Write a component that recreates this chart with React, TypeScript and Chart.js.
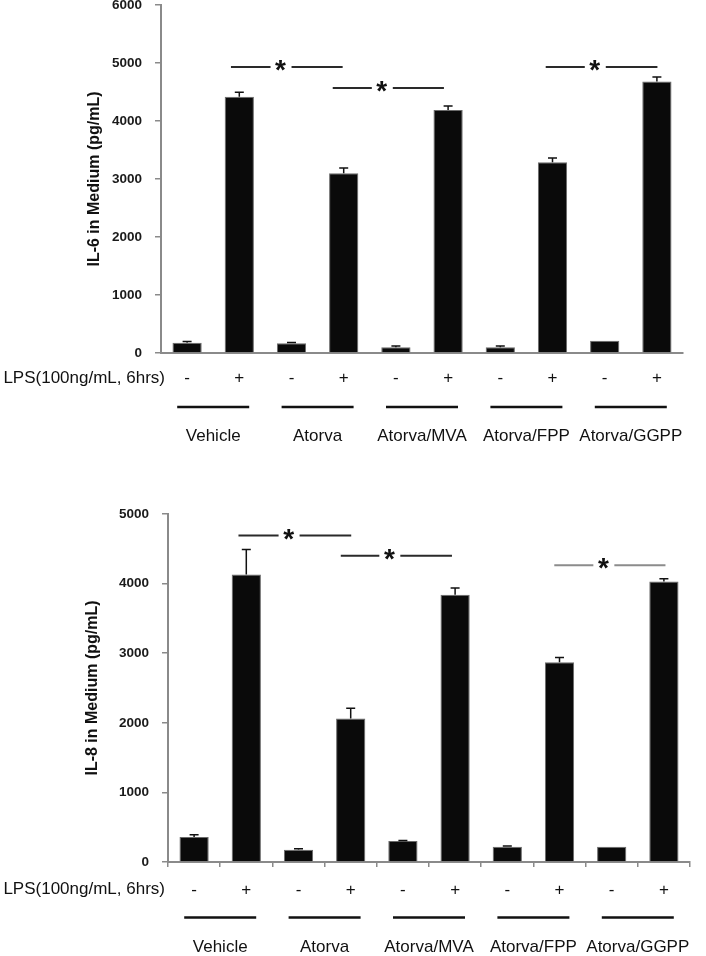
import React, { useEffect, useRef } from 'react';
import { Chart, registerables } from 'chart.js';

Chart.register(...registerables);

// ---------------- data ----------------
const groupNames = ['Vehicle', 'Atorva', 'Atorva/MVA', 'Atorva/FPP', 'Atorva/GGPP'];
const lpsSigns = ['-', '+', '-', '+', '-', '+', '-', '+', '-', '+'];
const lpsLabel = 'LPS(100ng/mL, 6hrs)';

const il6Title = 'IL-6 in Medium (pg/mL)';
const il6Values = [175, 4420, 170, 3100, 100, 4190, 100, 3290, 210, 4680];
const il6Errors = [25, 75, 10, 90, 20, 70, 20, 70, 0, 80];
const il6Max = 6000;
const il6Step = 1000;
const il6SigFrom = [0.84, 2.79, 6.87];
const il6SigTo = [2.98, 4.92, 9.01];
const il6SigStar = [1.79, 3.73, 7.81];
const il6SigLevel = [4930, 4570, 4930];

const il8Title = 'IL-8 in Medium (pg/mL)';
const il8Values = [360, 4130, 175, 2060, 300, 3840, 220, 2870, 220, 4030];
const il8Errors = [30, 360, 15, 150, 10, 95, 10, 70, 0, 40];
const il8Max = 5000;
const il8Step = 1000;
const il8SigFrom = [0.85, 2.81, 6.9];
const il8SigTo = [3.01, 4.94, 9.03];
const il8SigStar = [1.81, 3.74, 7.84];
const il8SigLevel = [4690, 4400, 4265];

const conditionLabels = groupNames.flatMap((g) => [g + ' -', g + ' +']);

// ---------------- styling ----------------
const FONT = "'Liberation Sans', Arial, Helvetica, sans-serif";
const AXIS = '#8a8a8a';
const INK = '#111111';

type Cfg = {
  values: number[];
  errors: number[];
  sigFrom: number[];
  sigTo: number[];
  sigStar: number[];
  sigLevel: number[];
  sigColors: string[];
  signOffset: number;
  groupLineOffset: number;
  groupNameOffset: number;
  lpsRight: number;
};

function makeAnnotations(cfg: Cfg) {
  return {
    id: 'annotations',
    afterDraw(chart: any) {
      const { ctx, chartArea } = chart;
      const x = chart.scales.x;
      const y = chart.scales.y;
      const bottom = chartArea.bottom;
      ctx.save();

      // error bars (upper whisker only)
      ctx.strokeStyle = INK;
      ctx.lineWidth = 1.5;
      cfg.values.forEach((v, i) => {
        const e = cfg.errors[i];
        if (!e) return;
        const cx = x.getPixelForValue(i);
        const y0 = y.getPixelForValue(v);
        const y1 = y.getPixelForValue(v + e);
        ctx.beginPath();
        ctx.moveTo(cx, y0);
        ctx.lineTo(cx, y1);
        ctx.moveTo(cx - 4.5, y1);
        ctx.lineTo(cx + 4.5, y1);
        ctx.stroke();
      });

      // significance lines with stars
      cfg.sigLevel.forEach((lvl, k) => {
        const yy = y.getPixelForValue(lvl);
        const x0 = x.getPixelForValue(cfg.sigFrom[k]);
        const x1 = x.getPixelForValue(cfg.sigTo[k]);
        const xs = x.getPixelForValue(cfg.sigStar[k]);
        ctx.strokeStyle = cfg.sigColors[k];
        ctx.fillStyle = INK;
        ctx.lineWidth = 2;
        ctx.beginPath();
        ctx.moveTo(x0, yy);
        ctx.lineTo(xs - 10, yy);
        ctx.moveTo(xs + 11, yy);
        ctx.lineTo(x1, yy);
        ctx.stroke();
        ctx.font = `bold 28px ${FONT}`;
        ctx.textAlign = 'center';
        ctx.textBaseline = 'alphabetic';
        ctx.fillText('*', xs, yy + 12);
      });

      // LPS row label
      ctx.font = `17px ${FONT}`;
      ctx.fillStyle = INK;
      ctx.textAlign = 'right';
      ctx.textBaseline = 'middle';
      ctx.fillText(lpsLabel, cfg.lpsRight, bottom + cfg.signOffset);

      // group underlines and names
      groupNames.forEach((name, g) => {
        const cx = x.getPixelForValue(2 * g + 0.5);
        ctx.strokeStyle = INK;
        ctx.lineWidth = 2.5;
        ctx.beginPath();
        ctx.moveTo(cx - 36, bottom + cfg.groupLineOffset);
        ctx.lineTo(cx + 36, bottom + cfg.groupLineOffset);
        ctx.stroke();
        ctx.textAlign = 'center';
        ctx.textBaseline = 'middle';
        ctx.fillText(name, cx, bottom + cfg.groupNameOffset);
      });
      ctx.restore();
    },
  };
}

function buildConfig(opts: {
  title: string;
  values: number[];
  max: number;
  step: number;
  pad: { top: number; left: number; right: number };
  yWidth: number;
  xHeight: number;
  xTicks: boolean;
  tickPad: number;
  titlePad: number;
  cfg: Cfg;
}): any {
  return {
    type: 'bar',
    data: {
      labels: conditionLabels,
      datasets: [
        {
          data: opts.values,
          backgroundColor: '#0a0a0a',
          borderColor: '#6a6a6a',
          borderWidth: 1,
          barPercentage: 0.56,
          categoryPercentage: 1,
        },
      ],
    },
    options: {
      responsive: false,
      animation: false,
      devicePixelRatio: 1,
      layout: { padding: { top: opts.pad.top, left: opts.pad.left, right: opts.pad.right, bottom: 0 } },
      plugins: { legend: { display: false }, tooltip: { enabled: false }, title: { display: false } },
      scales: {
        x: {
          type: 'category',
          offset: true,
          grid: {
            display: opts.xTicks,
            drawOnChartArea: false,
            drawTicks: opts.xTicks,
            tickLength: 5,
            color: AXIS,
            lineWidth: 1.5,
            offset: true,
          },
          border: { display: true, color: AXIS, width: 2 },
          ticks: {
            autoSkip: false,
            maxRotation: 0,
            padding: opts.tickPad,
            color: INK,
            font: { family: FONT, size: 17 },
            callback: (_v: any, i: number) => lpsSigns[i],
          },
          afterFit: (s: any) => {
            s.height = opts.xHeight;
            s.paddingLeft = 0;
            s.paddingRight = 0;
          },
        },
        y: {
          min: 0,
          max: opts.max,
          grid: { display: true, drawOnChartArea: false, drawTicks: true, tickLength: 6, color: AXIS, lineWidth: 1.5 },
          border: { display: true, color: AXIS, width: 2 },
          ticks: {
            stepSize: opts.step,
            padding: 13,
            color: '#1a1a1a',
            font: { family: FONT, size: 13.5, weight: 'bold' },
            callback: (v: any) => String(v),
          },
          title: {
            display: true,
            text: opts.title,
            color: INK,
            font: { family: FONT, size: 16, weight: 'bold' },
            padding: { top: opts.titlePad, bottom: 0 },
          },
          afterFit: (s: any) => {
            s.width = opts.yWidth;
            s.paddingTop = 0;
            s.paddingBottom = 0;
          },
        },
      },
    },
    plugins: [makeAnnotations(opts.cfg)],
  };
}

function ChartCanvas({ config, width, height, top }: { config: any; width: number; height: number; top: number }) {
  const ref = useRef<HTMLCanvasElement | null>(null);
  useEffect(() => {
    if (!ref.current) return;
    const chart = new Chart(ref.current, config);
    return () => chart.destroy();
  }, [config]);
  return (
    <canvas
      ref={ref}
      width={width}
      height={height}
      style={{ position: 'absolute', left: 0, top, width, height, display: 'block' }}
    />
  );
}

const il6Config = buildConfig({
  title: il6Title,
  values: il6Values,
  max: il6Max,
  step: il6Step,
  pad: { top: 5, left: 80, right: 23 },
  yWidth: 81,
  xHeight: 117,
  xTicks: false,
  tickPad: 15,
  titlePad: 5,
  cfg: {
    values: il6Values,
    errors: il6Errors,
    sigFrom: il6SigFrom,
    sigTo: il6SigTo,
    sigStar: il6SigStar,
    sigLevel: il6SigLevel,
    sigColors: ['#2a2a2a', '#2a2a2a', '#2a2a2a'],
    signOffset: 25,
    groupLineOffset: 54,
    groupNameOffset: 83,
    lpsRight: 165,
  },
});

const il8Config = buildConfig({
  title: il8Title,
  values: il8Values,
  max: il8Max,
  step: il8Step,
  pad: { top: 44, left: 80, right: 16 },
  yWidth: 88,
  xHeight: 94,
  xTicks: true,
  tickPad: 13,
  titlePad: 3,
  cfg: {
    values: il8Values,
    errors: il8Errors,
    sigFrom: il8SigFrom,
    sigTo: il8SigTo,
    sigStar: il8SigStar,
    sigLevel: il8SigLevel,
    sigColors: ['#2a2a2a', '#2a2a2a', '#8c8c8c'],
    signOffset: 27.5,
    groupLineOffset: 55.5,
    groupNameOffset: 85,
    lpsRight: 165,
  },
});

export default function App() {
  return (
    <div style={{ position: 'absolute', left: 0, top: 0, width: 706, height: 956, background: '#fff', overflow: 'hidden' }}>
      <ChartCanvas config={il6Config} width={706} height={470} top={0} />
      <ChartCanvas config={il8Config} width={706} height={486} top={470} />
    </div>
  );
}
